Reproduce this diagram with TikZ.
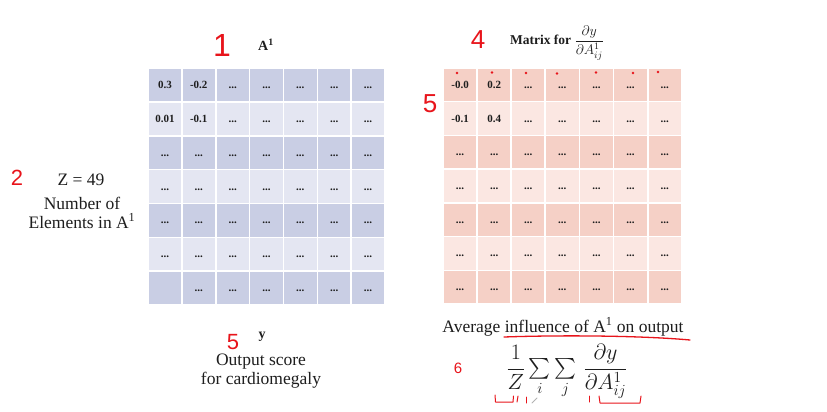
\RequirePackage{fix-cm}
\documentclass[tikz,border=0pt]{standalone}
\usepackage{exscale}
\usepackage{fontspec}
\setmainfont{Liberation Serif}
\setsansfont{Liberation Sans}
\definecolor{Ldark}{HTML}{C9CEE4}
\definecolor{Llight}{HTML}{E4E6F2}
\definecolor{Rdark}{HTML}{F5D0C6}
\definecolor{Rlight}{HTML}{FBE7E2}
\definecolor{pen}{HTML}{E8141B}
\definecolor{ink}{HTML}{1E1E1E}
\tikzset{
  cell/.style={minimum width=32.3pt, minimum height=32.3pt, inner sep=0pt, draw=none,
    text height=7pt, text depth=0pt, font=\fontsize{11}{12}\selectfont\bfseries, text=ink},
  lbl/.style={font=\fontsize{17.5}{19}\selectfont, text=ink, inner sep=0pt, align=center},
  boldlbl/.style={font=\fontsize{14}{15}\selectfont\bfseries, text=ink, inner sep=0pt},
  pennum/.style={font=\sffamily, text=pen, inner sep=0pt},
  penline/.style={draw=pen, line width=1.3pt, line cap=round, line join=round},
  pendot/.style={fill=pen, draw=none, circle, inner sep=0pt, minimum size=2.6pt},
}
\begin{document}
\begin{tikzpicture}[x=1pt,y=-1pt]
\useasboundingbox[fill=white] (0,0) rectangle (827,412);

% left matrix A^1
\foreach \r in {1,...,7}{
  \foreach \c in {1,...,7}{
    \pgfmathtruncatemacro{\dk}{mod(\r,2)}
    \pgfmathtruncatemacro{\sp}{and(\r<3,\c<3)}
    \ifnum\dk=1 \def\cf{Ldark}\else\def\cf{Llight}\fi
    \node[cell, fill=\cf] (L-\r-\c) at ({148+(\c-0.5)*33.86},{68+(\r-0.5)*33.86})
      {\ifnum\sp=0 \ifnum\r\c=71 \else...\fi\fi};
  }
}
\node[cell] at (L-1-1) {0.3};
\node[cell] at (L-1-2) {-0.2};
\node[cell] at (L-2-1) {0.01};
\node[cell] at (L-2-2) {-0.1};

% right matrix dy/dA
\foreach \r in {1,...,7}{
  \foreach \c in {1,...,7}{
    \pgfmathtruncatemacro{\dk}{mod(\r,2)}
    \pgfmathtruncatemacro{\sp}{and(\r<3,\c<3)}
    \ifnum\dk=1 \def\cf{Rdark}\else\def\cf{Rlight}\fi
    \node[cell, fill=\cf] (R-\r-\c) at ({443+(\c-0.5)*34.1},{68+(\r-0.5)*33.7})
      {\ifnum\sp=0 ...\fi};
  }
}
\node[cell] at (R-1-1) {-0.0};
\node[cell] at (R-1-2) {0.2};
\node[cell] at (R-2-1) {-0.1};
\node[cell] at (R-2-2) {0.4};

% red dots over first row
\foreach \x/\y [count=\k] in {457/73, 492/72.5, 526/73, 557/73.5, 596/72.5, 633/73, 658/72}{
  \node[pendot] (d\k) at (\x,\y) {};
}

% labels
\node[boldlbl] (A1) at (266,45) {A\textsuperscript{1}};
\node[inner sep=0pt, text=ink] (mt) at (557,43)
  {{\fontsize{13.5}{14}\selectfont\bfseries Matrix for }{\fontsize{14}{17}\selectfont$\displaystyle\frac{\partial y}{\partial A^{1}_{ij}}$}};
\node[lbl] (z) at (81,180) {Z = 49};
\node[lbl] (ne) at (82,212.5) {Number of\\Elements in A\textsuperscript{1}};
\node[boldlbl] (y) at (262,337) {y};
\node[lbl] (os) at (261,371.5) {Output score\\for cardiomegaly};
\node[lbl] (avg) at (563,327) {Average influence of A\textsuperscript{1} on output};
\node[inner sep=0pt, text=ink] (f) at (567,371.5)
  {\fontsize{22}{25}\selectfont$\displaystyle\frac{1}{Z}\textstyle\sum\limits_i\sum\limits_j\,\displaystyle\frac{\partial y}{\partial A^1_{ij}}$};

% red handwritten annotations
\node[pennum, font=\sffamily\fontsize{32}{36}\selectfont] (n1) at (222,45) {1};
\node[pennum, font=\sffamily\fontsize{26}{28}\selectfont] (n4) at (478,40) {4};
\node[pennum, font=\sffamily\fontsize{26}{28}\selectfont] (n5a) at (430,104) {5};
\node[pennum, font=\sffamily\fontsize{22}{24}\selectfont] (n2) at (17,178) {2};
\node[pennum, font=\sffamily\fontsize{22}{24}\selectfont] (n5b) at (233,342) {5};
\node[pennum, font=\sffamily\fontsize{15}{17}\selectfont] (n6) at (458,368) {6};

% underline
\coordinate (u1) at (504,337);
\coordinate (u2) at (690,340);
\draw[penline] (u1) .. controls (560,335) and (640,335.5) .. (u2);

% brackets under formula
\draw[penline, line width=1pt] (495,395) -- (495.5,402) -- (513,402) -- (513.5,396);
\draw[penline, line width=1pt] (518,396) -- (517,402);
\draw[penline, line width=1pt] (526,397) -- (526,403);
\draw[gray!60, line width=1pt, line cap=round] (532,403) -- (537,398);
\draw[penline, line width=1pt] (589,396) -- (589,402);
\draw[penline, line width=1pt] (599,396) -- (600,403) -- (640,403) -- (641,396);
\end{tikzpicture}
\end{document}
